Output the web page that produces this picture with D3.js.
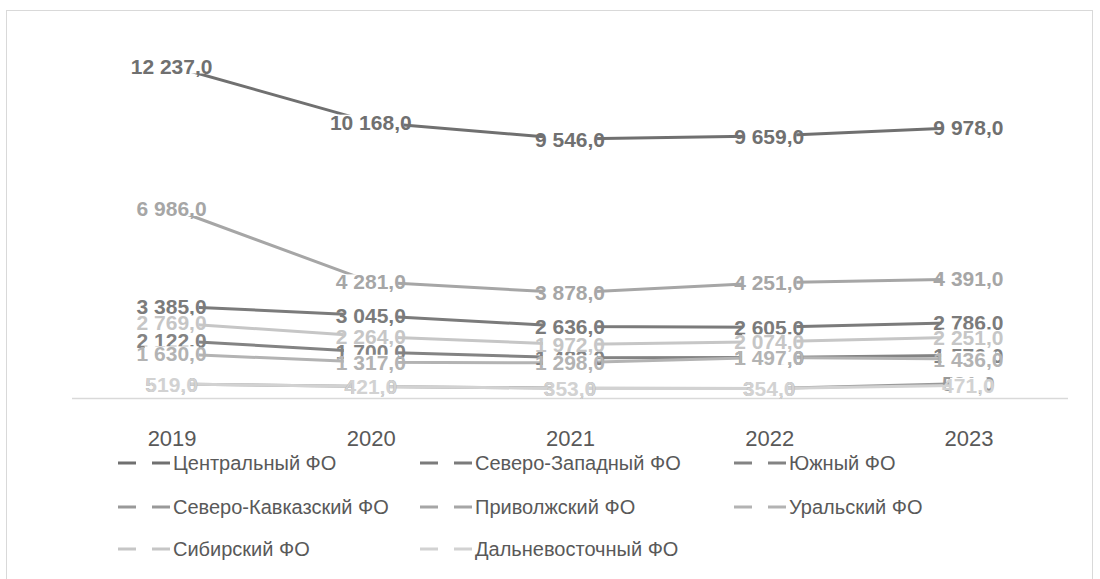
<!DOCTYPE html>
<html lang="ru">
<head>
<meta charset="utf-8">
<script src="https://cdn.jsdelivr.net/npm/d3@7"></script>
<style>
  html, body { margin: 0; padding: 0; background: #fff; }
  svg { display: block; }
</style>
</head>
<body>
<svg id="chart" width="1100" height="579"></svg>
<script>
// Годы (категории)
const years = ["2019", "2020", "2021", "2022", "2023"];

// Федеральные округа и их значения по годам
const districts = [
  "Центральный ФО", "Северо-Западный ФО", "Южный ФО", "Северо-Кавказский ФО",
  "Приволжский ФО", "Уральский ФО", "Сибирский ФО", "Дальневосточный ФО"
];
const central       = [12237, 10168, 9546, 9659, 9978];
const northWest     = [3385, 3045, 2636, 2605, 2786];
const south         = [2122, 1700, 1483, 1493, 1576];
const northCaucasus = [518, 427, 363, 350, 531];
const volga         = [6986, 4281, 3878, 4251, 4391];
const ural          = [1630, 1317, 1298, 1497, 1436];
const siberia       = [2769, 2264, 1972, 2074, 2251];
const farEast       = [519, 421, 353, 354, 471];

const seriesValues = [central, northWest, south, northCaucasus, volga, ural, siberia, farEast];
const colors = ["#707070", "#7b7b7b", "#838383", "#999999", "#a6a6a6", "#b3b3b3", "#c6c6c6", "#d2d2d2"];

const series = districts.map((name, i) => ({
  name, color: colors[i],
  values: seriesValues[i].map((v, j) => ({ year: years[j], value: v }))
}));

const svg = d3.select("#chart");

// Рамка области диаграммы
svg.append("rect")
  .attr("x", 6.5).attr("y", 10.5)
  .attr("width", 1086).attr("height", 620)
  .attr("fill", "none").attr("stroke", "#d9d9d9").attr("stroke-width", 1);

const x = d3.scalePoint().domain(years).range([72, 1068]).padding(0.5);
const y = d3.scaleLinear().domain([0, 14000]).range([398, 18.2]);

// Горизонтальная ось
const xAxis = svg.append("g")
  .attr("transform", "translate(0,398)")
  .call(d3.axisBottom(x).tickSize(0).tickPadding(0).tickSizeOuter(0));
xAxis.select(".domain")
  .attr("d", "M72,0.5H1068")
  .attr("stroke", "#d9d9d9").attr("stroke-width", 1.3);
xAxis.selectAll(".tick text")
  .attr("y", 48).attr("dy", null)
  .attr("font-family", "Liberation Sans, Arial, sans-serif")
  .attr("font-size", 22).attr("fill", "#595959");

// Линии рядов
const line = d3.line().x(d => x(d.year)).y(d => y(d.value));
svg.append("g").selectAll("path")
  .data(series).join("path")
  .attr("d", d => line(d.values))
  .attr("fill", "none")
  .attr("stroke", d => d.color)
  .attr("stroke-width", 3)
  .attr("stroke-linejoin", "round");

// Подписи данных: формат с пробелом-разделителем тысяч и десятичной запятой
const ru = d3.formatLocale({ decimal: ",", thousands: "\u00a0", grouping: [3], currency: ["", ""] });
const fmt = ru.format(",.1f");

const labelsG = svg.append("g");
series.forEach(s => {
  s.values.forEach(d => {
    const g = labelsG.append("g")
      .attr("transform", `translate(${x(d.year)},${y(d.value)})`);
    const bg = g.append("rect").attr("fill", "#fff");
    const t = g.append("text")
      .attr("text-anchor", "middle")
      .attr("y", 7.6)
      .attr("font-family", "Liberation Sans, Arial, sans-serif")
      .attr("font-weight", "bold")
      .attr("font-size", 21)
      .attr("fill", s.color)
      .text(fmt(d.value));
    const w = t.node().getComputedTextLength();
    bg.attr("x", -w / 2 + 8).attr("width", Math.max(0, w - 16))
      .attr("y", -7.5).attr("height", 15);
  });
});

// Легенда
const legendCols = [118, 420, 734];
const legendRows = [463, 507, 549];
const legend = svg.append("g");
series.forEach((s, i) => {
  const lx = legendCols[i % 3];
  const ly = legendRows[Math.floor(i / 3)];
  const item = legend.append("g").attr("transform", `translate(${lx},${ly})`);
  item.append("line")
    .attr("x1", 0).attr("x2", 54).attr("y1", 0).attr("y2", 0)
    .attr("stroke", s.color).attr("stroke-width", 3)
    .attr("stroke-dasharray", "18,16");
  item.append("text")
    .attr("x", 55).attr("y", 7)
    .attr("font-family", "Liberation Sans, Arial, sans-serif")
    .attr("font-size", 20).attr("fill", "#595959")
    .text(s.name);
});
</script>
</body>
</html>
